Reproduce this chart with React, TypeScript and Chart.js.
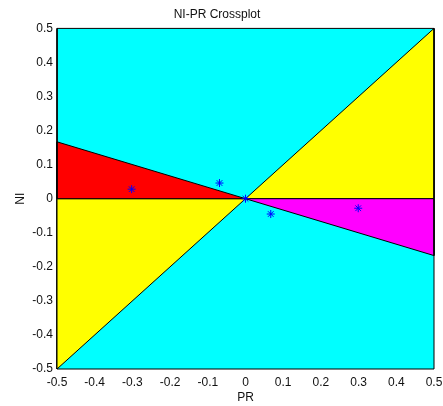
import React, { useEffect, useRef } from "react";
import { Chart, registerables } from "chart.js";

Chart.register(...registerables);

const chartTitle = "NI-PR Crossplot";
const xTitle = "PR";
const yTitle = "NI";

const tickValues = [-0.5, -0.4, -0.3, -0.2, -0.1, 0, 0.1, 0.2, 0.3, 0.4, 0.5];
const tickLabels = ["-0.5", "-0.4", "-0.3", "-0.2", "-0.1", "0", "0.1", "0.2", "0.3", "0.4", "0.5"];

// background region (whole plot)
const bgX = [-0.5, 0.5, 0.5, -0.5, -0.5];
const bgY = [-0.5, -0.5, 0.5, 0.5, -0.5];

// yellow upper-right triangle
const yellowUpX = [0, 0.5, 0.5, 0];
const yellowUpY = [0, 0.5, 0, 0];

// yellow lower-left triangle
const yellowLowX = [0, -0.5, -0.5, 0];
const yellowLowY = [0, -0.5, 0, 0];

// red triangle
const redX = [0, -0.5, -0.5, 0];
const redY = [0, 0.167, 0, 0];

// magenta triangle
const magentaX = [0, 0.5, 0.5, 0];
const magentaY = [0, 0, -0.167, 0];

// data points
const pointX = [-0.302, -0.069, 0, 0.067, 0.299];
const pointY = [0.028, 0.046, 0, -0.045, -0.028];

const zip = (xs: number[], ys: number[]) => xs.map((x, i) => ({ x, y: ys[i] }));

const FONT = "'Liberation Sans', Arial, Helvetica, sans-serif";

export default function App() {
  const ref = useRef<HTMLCanvasElement | null>(null);

  useEffect(() => {
    document.body.style.margin = "0";
    const canvas = ref.current;
    if (!canvas) return;

    const poly = (xs: number[], ys: number[], color: string, order: number) => ({
      type: "scatter" as const,
      data: zip(xs, ys),
      showLine: true,
      fill: "shape" as const,
      backgroundColor: color,
      borderColor: "#000000",
      borderWidth: 1,
      pointRadius: 0,
      pointHoverRadius: 0,
      tension: 0,
      order,
      clip: 3,
    });

    const chart = new Chart(canvas, {
      type: "scatter",
      data: {
        datasets: [
          {
            data: zip(pointX, pointY),
            pointStyle: "star",
            pointRadius: 4,
            pointBorderColor: "#0000ff",
            pointBackgroundColor: "#0000ff",
            borderColor: "#0000ff",
            pointBorderWidth: 1,
            showLine: false,
            order: 0,
            clip: 5,
          } as any,
          poly(redX, redY, "#ff0000", 1),
          poly(magentaX, magentaY, "#ff00ff", 1),
          poly(yellowUpX, yellowUpY, "#ffff00", 1),
          poly(yellowLowX, yellowLowY, "#ffff00", 1),
          poly(bgX, bgY, "#00ffff", 2),
        ],
      },
      options: {
        responsive: false,
        animation: false,
        devicePixelRatio: 1,
        events: [],
        layout: { padding: { left: 0, right: 9, top: 0, bottom: 0 } },
        plugins: {
          legend: { display: false },
          tooltip: { enabled: false },
          title: {
            display: true,
            text: chartTitle,
            color: "#111",
            font: { family: FONT, size: 12, weight: "normal" },
            padding: { top: 7, bottom: 7 },
          },
        },
        scales: {
          x: {
            type: "linear",
            min: -0.5,
            max: 0.5,
            grid: { display: false, drawTicks: false },
            border: { display: false },
            afterBuildTicks: (s: any) => {
              s.ticks = tickValues.map((v) => ({ value: v }));
            },
            afterFit: (s: any) => {
              s.height = 37;
              s.paddingLeft = 0;
              s.paddingRight = 0;
            },
            ticks: {
              autoSkip: false,
              maxRotation: 0,
              padding: 6,
              color: "#111",
              font: { family: FONT, size: 12 },
              callback: (_v: any, i: number) => tickLabels[i],
            },
            title: {
              display: true,
              text: xTitle,
              color: "#111",
              font: { family: FONT, size: 12 },
              padding: { top: 0, bottom: 1 },
            },
          },
          y: {
            type: "linear",
            min: -0.5,
            max: 0.5,
            grid: { display: false, drawTicks: false },
            border: { display: false },
            afterBuildTicks: (s: any) => {
              s.ticks = tickValues.map((v) => ({ value: v }));
            },
            afterFit: (s: any) => {
              s.width = 57;
              s.paddingTop = 0;
              s.paddingBottom = 0;
            },
            ticks: {
              autoSkip: false,
              padding: 4,
              color: "#111",
              font: { family: FONT, size: 12 },
              callback: (_v: any, i: number) => tickLabels[i],
            },
            title: {
              display: true,
              text: yTitle,
              color: "#111",
              font: { family: FONT, size: 12 },
              padding: { top: 13, bottom: 0 },
            },
          },
        },
      } as any,
    });

    return () => chart.destroy();
  }, []);

  return <canvas ref={ref} width={443} height={406} style={{ display: "block" }} />;
}
